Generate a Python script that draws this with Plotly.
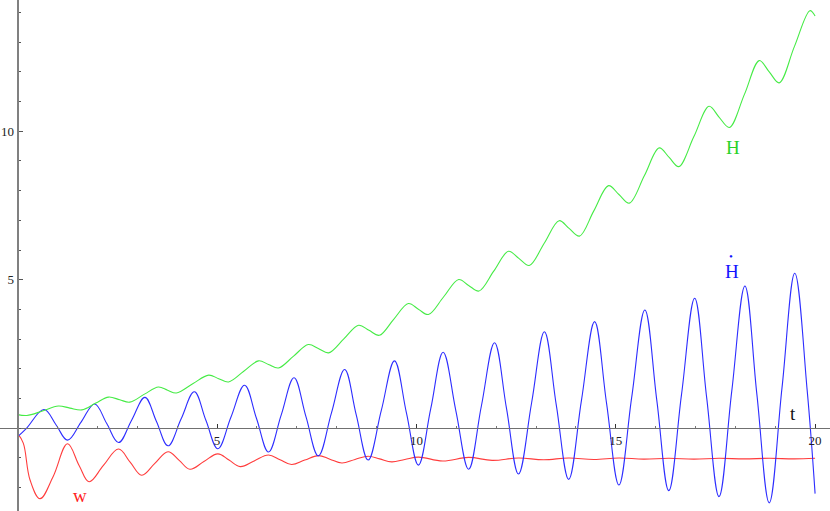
import plotly.graph_objects as go

# H (green)
h_t = [0, 0.23, 0.62, 1.02, 1.31, 1.61, 1.96, 2.28, 2.56, 2.81, 3.18, 3.53, 3.76, 3.98,
       4.39, 4.79, 5.04, 5.29, 5.67, 6.04, 6.29, 6.54, 6.92, 7.29, 7.55, 7.80, 8.18, 8.55,
       8.81, 9.07, 9.43, 9.80, 10.05, 10.30, 10.68, 11.06, 11.31, 11.57, 11.94, 12.31,
       12.57, 12.83, 13.21, 13.58, 13.83, 14.09, 14.45, 14.82, 15.08, 15.34, 15.72, 16.09,
       16.34, 16.58, 16.96, 17.34, 17.59, 17.85, 18.23, 18.60, 18.85, 19.10, 19.48, 19.87, 20.0]
h_val = [0.46, 0.43, 0.58, 0.75, 0.68, 0.62, 0.85, 1.05, 0.96, 0.88, 1.15, 1.39, 1.28, 1.19,
         1.50, 1.79, 1.67, 1.56, 1.92, 2.27, 2.15, 2.03, 2.43, 2.82, 2.68, 2.54, 3.01, 3.47,
         3.30, 3.13, 3.67, 4.20, 4.01, 3.83, 4.42, 5.01, 4.81, 4.62, 5.29, 5.96, 5.72, 5.48,
         6.24, 6.99, 6.73, 6.47, 7.32, 8.17, 7.87, 7.58, 8.51, 9.44, 9.12, 8.81, 9.82, 10.84,
         10.48, 10.13, 11.25, 12.38, 12.00, 11.63, 12.85, 14.06, 13.88]

# H dot (blue)
hd_t = [0, 0.22, 0.66, 0.96, 1.25, 1.59, 1.93, 2.23, 2.53, 2.86, 3.19, 3.48, 3.77, 4.10,
        4.43, 4.72, 5.02, 5.35, 5.69, 5.99, 6.29, 6.61, 6.93, 7.23, 7.54, 7.87, 8.20, 8.49,
        8.79, 9.12, 9.45, 9.75, 10.05, 10.36, 10.67, 10.99, 11.31, 11.63, 11.96, 12.26,
        12.56, 12.89, 13.21, 13.51, 13.82, 14.14, 14.47, 14.77, 15.08, 15.40, 15.73, 16.03,
        16.33, 16.65, 16.98, 17.28, 17.59, 17.91, 18.24, 18.54, 18.85, 19.17, 19.49, 19.80, 20.0]
hd_val = [-0.28, 0.0, 0.63, 0.12, -0.40, 0.21, 0.82, 0.17, -0.48, 0.28, 1.04, 0.23, -0.59, 0.32,
          1.23, 0.27, -0.69, 0.38, 1.45, 0.33, -0.80, 0.45, 1.70, 0.39, -0.93, 0.52, 1.98, 0.46,
          -1.07, 0.60, 2.27, 0.52, -1.24, 0.66, 2.56, 0.59, -1.38, 0.75, 2.88, 0.67, -1.54, 0.86,
          3.25, 0.77, -1.72, 0.94, 3.59, 0.84, -1.91, 1.04, 3.98, 0.94, -2.10, 1.14, 4.38, 1.04,
          -2.30, 1.25, 4.79, 1.14, -2.51, 1.36, 5.22, 1.30, -2.20]

# w (red)
w_t = [0, 0.14, 0.31, 0.56, 0.89, 1.25, 1.54, 1.79, 2.15, 2.53, 2.82, 3.11, 3.44, 3.77,
       4.05, 4.32, 4.67, 5.02, 5.30, 5.58, 5.93, 6.29, 6.58, 6.87, 7.20, 7.54, 7.83, 8.13,
       8.46, 8.79, 9.08, 9.38, 9.71, 10.05, 10.66, 11.31, 11.90, 12.56, 13.19, 13.82, 14.45,
       15.08, 15.70, 16.33, 16.96, 17.59, 18.22, 18.85, 19.47, 20.0]
w_val = [-0.18, -0.50, -1.74, -2.37, -1.62, -0.52, -1.25, -1.80, -1.25, -0.70, -1.14, -1.58,
         -1.18, -0.79, -1.08, -1.38, -1.12, -0.86, -1.07, -1.29, -1.10, -0.90, -1.06, -1.22,
         -1.07, -0.92, -1.04, -1.17, -1.05, -0.94, -1.03, -1.13, -1.05, -0.97, -1.10, -0.98,
         -1.08, -1.00, -1.06, -1.00, -1.05, -1.00, -1.04, -1.01, -1.04, -1.01, -1.03, -1.01,
         -1.03, -1.01]

x_ticks = [5, 10, 15, 20]
y_ticks = [5, 10]

X_RANGE = [-0.444, 20.374]
Y_RANGE = [-2.785, 14.42]
SERIF = 'Liberation Serif'
GREEN = 'rgb(70,235,70)'
BLUE = 'rgb(45,45,255)'
RED = 'rgb(255,60,60)'

fig = go.Figure()
fig.add_trace(go.Scatter(x=w_t, y=w_val, mode='lines',
                         line=dict(color=RED, width=1.1, shape='spline', smoothing=1.1)))
fig.add_trace(go.Scatter(x=hd_t, y=hd_val, mode='lines',
                         line=dict(color=BLUE, width=1.1, shape='spline', smoothing=1.1)))
fig.add_trace(go.Scatter(x=h_t, y=h_val, mode='lines',
                         line=dict(color=GREEN, width=1.1, shape='spline', smoothing=1.0)))

# axes cross at the origin, Mathematica style
x_pos = (0 - Y_RANGE[0]) / (Y_RANGE[1] - Y_RANGE[0])
y_pos = (0 - X_RANGE[0]) / (X_RANGE[1] - X_RANGE[0])

fig.update_xaxes(
    range=X_RANGE, anchor='free', position=x_pos,
    showline=True, linecolor='#707070', linewidth=1,
    showgrid=False, zeroline=False,
    tickmode='array', tickvals=x_ticks,
    ticks='inside', ticklen=4, tickcolor='#333', tickwidth=1,
    minor=dict(ticks='inside', dtick=1, tick0=0, ticklen=2, tickcolor='#777', showgrid=False),
    tickfont=dict(family=SERIF, size=13, color='#222'),
)
fig.update_yaxes(
    range=Y_RANGE, anchor='free', position=y_pos,
    showline=True, linecolor='#808080', linewidth=2,
    showgrid=False, zeroline=False,
    tickmode='array', tickvals=y_ticks,
    ticks='inside', ticklen=4, tickcolor='#555', tickwidth=1,
    minor=dict(ticks='inside', dtick=1, tick0=0, ticklen=2, tickcolor='#555', showgrid=False),
    tickfont=dict(family=SERIF, size=13, color='#222'),
)

labels = [
    ('H', 17.95, 9.45, 'rgb(40,210,40)', 19),
    ('H', 17.92, 5.27, 'rgb(20,20,255)', 19),
    ('\u2022', 17.88, 5.80, 'rgb(20,20,255)', 11),
    ('w', 1.57, -2.25, 'rgb(255,30,30)', 19),
    ('t', 19.45, 0.50, '#111', 19),
]
for txt, lx, ly, col, size in labels:
    fig.add_annotation(x=lx, y=ly, text=txt, showarrow=False,
                       font=dict(family=SERIF, size=size, color=col))

fig.update_layout(
    width=830, height=511,
    margin=dict(l=0, r=0, t=0, b=0),
    paper_bgcolor='white', plot_bgcolor='white',
    showlegend=False,
)

fig.write_html("out.html", config={'displayModeBar': False},
               post_script="document.body.style.margin='0';")
